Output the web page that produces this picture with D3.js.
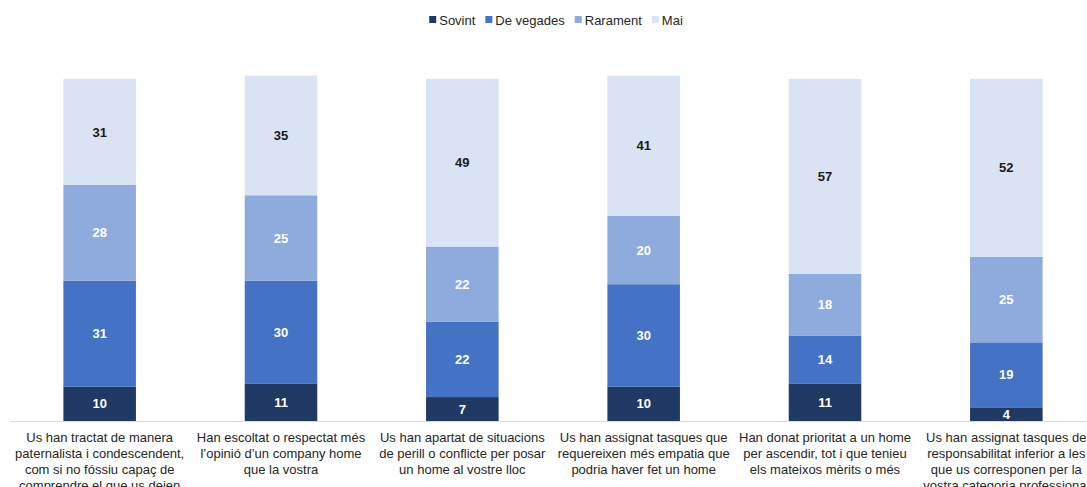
<!DOCTYPE html>
<html>
<head>
<meta charset="utf-8">
<script src="https://cdn.jsdelivr.net/npm/d3@7"></script>
<style>
  html, body { margin: 0; padding: 0; background: #ffffff; }
  svg { display: block; font-family: "Liberation Sans", Arial, sans-serif; }
</style>
</head>
<body>
<svg id="chart" width="1087" height="487"></svg>
<script>
// Survey items (category labels, already split into lines)
const categories = [
  ["Us han tractat de manera", "paternalista i condescendent,", "com si no fóssiu capaç de", "comprendre el que us deien"],
  ["Han escoltat o respectat més", "l’opinió d’un company home", "que la vostra"],
  ["Us han apartat de situacions", "de perill o conflicte per posar", "un home al vostre lloc"],
  ["Us han assignat tasques que", "requereixen més empatia que", "podria haver fet un home"],
  ["Han donat prioritat a un home", "per ascendir, tot i que tenieu", "els mateixos mèrits o més"],
  ["Us han assignat tasques de", "responsabilitat inferior a les", "que us corresponen per la", "vostra categoria professional"]
];

// Series (percentages)
const seriesNames = ["Sovint", "De vegades", "Rarament", "Mai"];
const sovint    = [10, 11, 7, 10, 11, 4];
const deVegades = [31, 30, 22, 30, 14, 19];
const rarament  = [28, 25, 22, 20, 18, 25];
const mai       = [31, 35, 49, 41, 57, 52];

const colors = ["#203864", "#4472c4", "#8faadc", "#dae3f3"];
const labelColors = ["#ffffff", "#ffffff", "#ffffff", "#1a1a1a"];

const rows = categories.map((c, i) => ({
  key: i,
  "Sovint": sovint[i],
  "De vegades": deVegades[i],
  "Rarament": rarament[i],
  "Mai": mai[i]
}));

const svg = d3.select("#chart");

const x = d3.scaleBand()
  .domain(rows.map(d => d.key))
  .range([9, 1097])
  .paddingInner(0.6)
  .paddingOuter(0.3);

const y = d3.scaleLinear()
  .domain([0, 100])
  .range([421, 79]);

const stacked = d3.stack().keys(seriesNames)(rows);

// Baseline
svg.append("line")
  .attr("x1", 10).attr("x2", 1087)
  .attr("y1", y(0) + 0.5).attr("y2", y(0) + 0.5)
  .attr("stroke", "#d9d9d9")
  .attr("stroke-width", 1);

// Stacked bars
const layer = svg.selectAll("g.layer")
  .data(stacked)
  .join("g")
  .attr("class", "layer")
  .attr("fill", (d, i) => colors[i]);

layer.selectAll("rect")
  .data(d => d)
  .join("rect")
  .attr("x", d => x(d.data.key))
  .attr("width", x.bandwidth())
  .attr("y", d => y(d[1]))
  .attr("height", d => y(d[0]) - y(d[1]));

// Value labels
stacked.forEach((s, si) => {
  svg.append("g")
    .selectAll("text")
    .data(s)
    .join("text")
    .attr("x", d => x(d.data.key) + x.bandwidth() / 2)
    .attr("y", d => (y(d[0]) + y(d[1])) / 2)
    .attr("dy", "0.35em")
    .attr("text-anchor", "middle")
    .attr("font-size", 13)
    .attr("font-weight", "bold")
    .attr("fill", labelColors[si])
    .text(d => d[1] - d[0]);
});

// Category labels under the axis
const catG = svg.append("g");
categories.forEach((lines, i) => {
  const t = catG.append("text")
    .attr("x", x(i) + x.bandwidth() / 2)
    .attr("y", 442)
    .attr("text-anchor", "middle")
    .attr("font-size", 13)
    .attr("fill", "#262626");
  lines.forEach((ln, j) => {
    t.append("tspan")
      .attr("x", x(i) + x.bandwidth() / 2)
      .attr("y", 442 + j * 16)
      .text(ln);
  });
});

// Legend, centred above the plot
const legend = svg.append("g");
const items = seriesNames.map((name, i) => {
  const g = legend.append("g");
  g.append("rect").attr("width", 7).attr("height", 7).attr("y", -4).attr("fill", colors[i]);
  const txt = g.append("text")
    .attr("x", 10).attr("y", 0).attr("dy", "0.35em")
    .attr("font-size", 13).attr("fill", "#262626")
    .text(name);
  return { g, w: 10 + txt.node().getComputedTextLength() };
});
const gap = 10;
const total = d3.sum(items, d => d.w) + gap * (items.length - 1);
let cx = 556 - total / 2;
items.forEach(it => {
  it.g.attr("transform", `translate(${cx},20)`);
  cx += it.w + gap;
});
</script>
</body>
</html>
